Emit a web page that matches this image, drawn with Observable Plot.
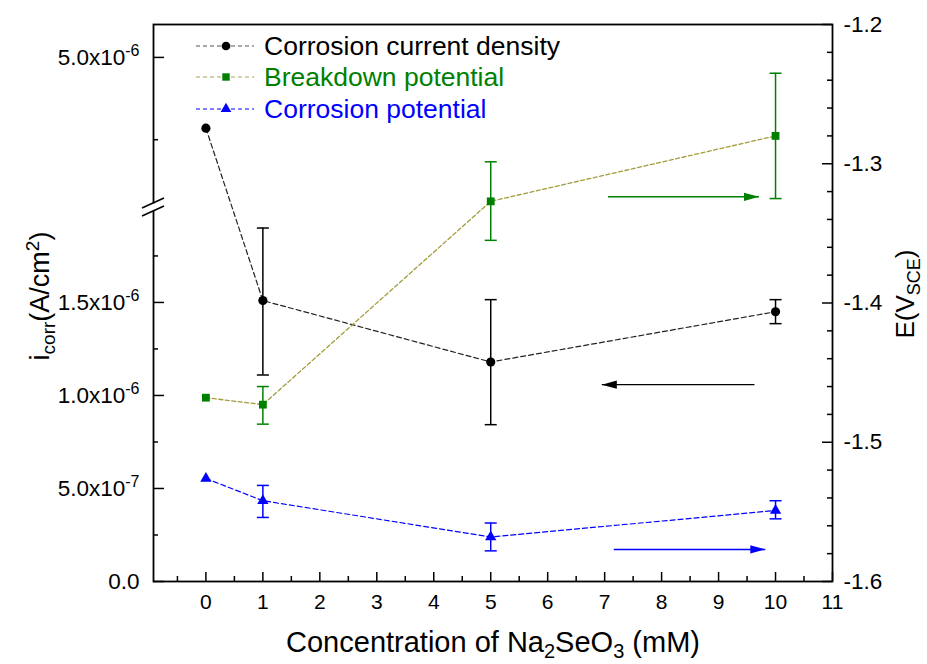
<!DOCTYPE html>
<html><head><meta charset="utf-8">
<script src="https://cdn.jsdelivr.net/npm/d3@7"></script>
<script src="https://cdn.jsdelivr.net/npm/@observablehq/plot@0.6"></script>
<style>
body{margin:0;background:#fff;}
svg{font-family:"Liberation Sans",Arial,sans-serif;}
</style>
</head><body><div id="chart"></div>
<script>
// ---------- data ----------
const conc = [0, 1, 5, 10];
const icorr   = [4.57e-6, 1.51e-6, 1.18e-6, 1.45e-6];
const icorrLo = [null, 1.11e-6, 0.843e-6, 1.386e-6];
const icorrHi = [null, 1.90e-6, 1.515e-6, 1.515e-6];
const eBreak   = [-1.468, -1.473, -1.327, -1.280];
const eBreakLo = [null, -1.487, -1.355, -1.325];
const eBreakHi = [null, -1.460, -1.2986, -1.235];
const eCorr   = [-1.526, -1.542, -1.568, -1.549];
const eCorrLo = [null, -1.554, -1.578, -1.555];
const eCorrHi = [null, -1.531, -1.558, -1.542];

const xTicks = [0,1,2,3,4,5,6,7,8,9,10,11];
const xMinor = [-0.5,0.5,1.5,2.5,3.5,4.5,5.5,6.5,7.5,8.5,9.5,10.5];
const leftTicks = [0, 5e-7, 1e-6, 1.5e-6, 5e-6];
const leftTickLabels = ["0.0", "5.0x10^-7", "1.0x10^-6", "1.5x10^-6", "5.0x10^-6"];
const leftMinor = [2.5e-7, 7.5e-7, 1.25e-6, 1.75e-6, 4.5e-6];
const rightTicks = [-1.6, -1.5, -1.4, -1.3, -1.2];
const rightMinor = [-1.58,-1.56,-1.54,-1.52,-1.48,-1.46,-1.44,-1.42,-1.38,-1.36,-1.34,-1.32,-1.28,-1.26,-1.24,-1.22];

const seriesNames = ["Corrosion current density", "Breakdown potential", "Corrosion potential"];
// annotation arrows (x from, x to, y value, axis)
const arrowFrom = [9.63, 7.06, 7.16];
const arrowTo   = [6.95, 9.71, 9.82];
const arrowY    = [1.058e-6, -1.3237, -1.577];
const arrowAxis = ["left", "right", "right"];

// ---------- broken left axis mapping onto the right (E) scale ----------
const eDomain = [-1.6, -1.2];
const lowSeg = [0, 2.0e-6], highSeg = [4.1e-6, 5.2e-6];
const lowFrac = [0, 0.668], highFrac = [0.675, 1];
function toE(c) {
  let f;
  if (c <= lowSeg[1]) f = lowFrac[0] + (c - lowSeg[0]) / (lowSeg[1] - lowSeg[0]) * (lowFrac[1] - lowFrac[0]);
  else f = highFrac[0] + (c - highSeg[0]) / (highSeg[1] - highSeg[0]) * (highFrac[1] - highFrac[0]);
  return eDomain[0] + f * (eDomain[1] - eDomain[0]);
}

const GREEN = "#008000", BLUE = "#0000ff", OLIVE = "#a39c3c";
const W = 927, H = 664, mL = 153, mR = 95, mT = 24, mB = 83;
const plotW = W - mL - mR, plotH = H - mT - mB;

const rows = conc.map((x, i) => ({
  x,
  ic: toE(icorr[i]), icLo: icorrLo[i] == null ? null : toE(icorrLo[i]), icHi: icorrHi[i] == null ? null : toE(icorrHi[i]),
  eb: eBreak[i], ebLo: eBreakLo[i], ebHi: eBreakHi[i],
  ec: eCorr[i], ecLo: eCorrLo[i], ecHi: eCorrHi[i]
}));
const errRows = rows.filter(d => d.icLo != null);

const arrows = arrowFrom.map((x1, i) => ({
  x1, x2: arrowTo[i],
  y: arrowAxis[i] === "left" ? toE(arrowY[i]) : arrowY[i],
  color: ["black", GREEN, BLUE][i],
  dir: arrowTo[i] > x1 ? "right" : "left"
}));

const capSymbol = {draw(ctx, size) { const r = Math.sqrt(size / Math.PI); ctx.moveTo(-r, 0); ctx.lineTo(r, 0); }};
const headRight = {draw(ctx, size) { const r = Math.sqrt(size / Math.PI); ctx.moveTo(0, 0); ctx.lineTo(-2 * r, -0.55 * r); ctx.lineTo(-2 * r, 0.55 * r); ctx.closePath(); }};
const headLeft  = {draw(ctx, size) { const r = Math.sqrt(size / Math.PI); ctx.moveTo(0, 0); ctx.lineTo(2 * r, -0.55 * r); ctx.lineTo(2 * r, 0.55 * r); ctx.closePath(); }};

function errMarks(lo, hi, color) {
  return [
    Plot.ruleX(errRows, {x: "x", y1: lo, y2: hi, stroke: color, strokeWidth: 1.5}),
    Plot.dot(errRows, {x: "x", y: lo, symbol: capSymbol, r: 6, stroke: color, fill: "none", strokeWidth: 1.5}),
    Plot.dot(errRows, {x: "x", y: hi, symbol: capSymbol, r: 6, stroke: color, fill: "none", strokeWidth: 1.5})
  ];
}

function breakMark(index, scales, values, dims) {
  const y = scales.y;
  const yTop = y(toE(highSeg[0])), yBot = y(toE(lowSeg[1]));
  const g = d3.create("svg:g");
  const x0 = dims.marginLeft;
  g.append("rect").attr("x", x0 - 3).attr("y", yTop - 1.5).attr("width", 6).attr("height", yBot - yTop + 3).attr("fill", "white");
  for (const yc of [yTop - 2, yBot + 2]) {
    g.append("line").attr("x1", x0 - 11).attr("y1", yc + 5).attr("x2", x0 + 11).attr("y2", yc - 5)
      .attr("stroke", "black").attr("stroke-width", 1.6);
  }
  return g.node();
}

function leftLabel(d) {
  let best = 0;
  leftTicks.forEach((t, i) => { if (Math.abs(toE(t) - d) < Math.abs(toE(leftTicks[best]) - d)) best = i; });
  return leftTickLabels[best];
}

const chart = Plot.plot({
  width: W, height: H,
  marginLeft: mL, marginRight: mR, marginTop: mT, marginBottom: mB,
  style: {fontFamily: "Liberation Sans, Arial, sans-serif", color: "black", background: "white"},
  x: {domain: [-0.92, 11]},
  y: {domain: eDomain},
  marks: [
    Plot.frame({stroke: "black", strokeWidth: 1.8}),
    // inward ticks
    Plot.tickX(xTicks, {x: d => d, insetTop: plotH - 9, stroke: "black", strokeWidth: 1.5}),
    Plot.tickX(xMinor, {x: d => d, insetTop: plotH - 5, stroke: "black", strokeWidth: 1.5}),
    Plot.tickY(leftTicks.map(toE), {y: d => d, insetRight: plotW - 11, stroke: "black", strokeWidth: 1.5}),
    Plot.tickY(leftMinor.map(toE), {y: d => d, insetRight: plotW - 5, stroke: "black", strokeWidth: 1.5}),
    Plot.tickY(rightTicks, {y: d => d, insetLeft: plotW - 10, stroke: "black", strokeWidth: 1.5}),
    Plot.tickY(rightMinor, {y: d => d, insetLeft: plotW - 5, stroke: "black", strokeWidth: 1.5}),
    breakMark,
    Plot.axisX({ticks: xTicks, tickSize: 0, tickPadding: 13, fontSize: 21, label: null, tickFormat: d => String(d)}),
    Plot.axisY({anchor: "left", ticks: leftTicks.map(toE), tickSize: 0, tickPadding: 14, fontSize: 23, label: null, tickFormat: leftLabel}),
    Plot.axisY({anchor: "right", ticks: rightTicks, tickSize: 0, tickPadding: 11, fontSize: 23, label: null, tickFormat: d => d.toFixed(1)}),
    // series lines
    Plot.line(rows, {x: "x", y: "ic", stroke: "#222", strokeWidth: 1.2, strokeDasharray: "5,3"}),
    Plot.line(rows, {x: "x", y: "eb", stroke: OLIVE, strokeWidth: 1.3, strokeDasharray: "4,2.5"}),
    Plot.line(rows, {x: "x", y: "ec", stroke: BLUE, strokeWidth: 1.2, strokeDasharray: "5,3"}),
    // error bars
    ...errMarks("icLo", "icHi", "black"),
    ...errMarks("ebLo", "ebHi", GREEN),
    ...errMarks("ecLo", "ecHi", BLUE),
    // markers
    Plot.dot(rows, {x: "x", y: "ic", r: 4.6, fill: "black", stroke: "none"}),
    Plot.dot(rows, {x: "x", y: "eb", symbol: "square", r: 4.4, fill: GREEN, stroke: "none"}),
    Plot.dot(rows, {x: "x", y: "ec", symbol: "triangle", r: 4.2, fill: BLUE, stroke: "none"}),
    // arrows
    Plot.link(arrows, {x1: "x1", x2: "x2", y1: "y", y2: "y", stroke: "color", strokeWidth: 1.4}),
    Plot.dot(arrows.filter(d => d.dir === "right"), {x: "x2", y: "y", symbol: headRight, r: 7.5, fill: "color", stroke: "none"}),
    Plot.dot(arrows.filter(d => d.dir === "left"), {x: "x2", y: "y", symbol: headLeft, r: 7.5, fill: "color", stroke: "none"})
  ]
});

const svg = d3.select(chart);

// tick label sizes
svg.selectAll('g[aria-label="y-axis tick label"] text').style("font-size", "22.5px");
svg.selectAll('g[aria-label="x-axis tick label"] text').style("font-size", "21px");

// superscript exponents in left tick labels
svg.selectAll("text").each(function() {
  const t = d3.select(this);
  const s = t.text();
  if (s.includes("^")) {
    const [base, exp] = s.split("^");
    t.text(null);
    t.append("tspan").text(base);
    t.append("tspan").attr("dy", "-9").style("font-size", "16px").text(exp);
  }
});

// axis titles
const xt = svg.append("text").attr("x", 493).attr("y", 652).attr("text-anchor", "middle")
  .style("font-size", "29px").attr("fill", "black");
xt.append("tspan").text("Concentration of Na");
xt.append("tspan").attr("dy", 6).style("font-size", "20px").text("2");
xt.append("tspan").attr("dy", -6).text("SeO");
xt.append("tspan").attr("dy", 6).style("font-size", "20px").text("3");
xt.append("tspan").attr("dy", -6).text(" (mM)");

const yl = svg.append("text").attr("transform", "translate(49,296) rotate(-90)").attr("text-anchor", "middle")
  .style("font-size", "27px").attr("fill", "black");
yl.append("tspan").text("i");
yl.append("tspan").attr("dy", 6).style("font-size", "19px").text("corr");
yl.append("tspan").attr("dy", -6).text("(A/cm");
yl.append("tspan").attr("dy", -10).style("font-size", "19px").text("2");
yl.append("tspan").attr("dy", 10).text(")");

const yr = svg.append("text").attr("transform", "translate(914,294) rotate(-90)").attr("text-anchor", "middle")
  .style("font-size", "26px").attr("fill", "black");
yr.append("tspan").text("E(V");
yr.append("tspan").attr("dy", 6).style("font-size", "18px").text("SCE");
yr.append("tspan").attr("dy", -6).text(")");

// legend
const legendColors = ["black", GREEN, BLUE];
const legendLine = ["#555", "#aaa35a", BLUE];
const legendSym = [d3.symbolCircle, d3.symbolSquare, d3.symbolTriangle];
const legendSize = [60, 55, 50];
const legendY = [46, 77, 109];
const lg = svg.append("g");
seriesNames.forEach((name, i) => {
  const yy = legendY[i];
  lg.append("line").attr("x1", 196).attr("x2", 254).attr("y1", yy).attr("y2", yy)
    .attr("stroke", legendLine[i]).attr("stroke-width", 1.2).attr("stroke-dasharray", "4,3");
  lg.append("path").attr("transform", `translate(226,${yy})`).attr("d", d3.symbol(legendSym[i], legendSize[i])())
    .attr("fill", legendColors[i]);
  lg.append("text").attr("x", 264).attr("y", yy + 9).attr("text-anchor", "start")
    .style("font-size", "26.5px").attr("fill", legendColors[i]).text(name);
});

document.getElementById("chart").appendChild(chart);
</script>
</body></html>
